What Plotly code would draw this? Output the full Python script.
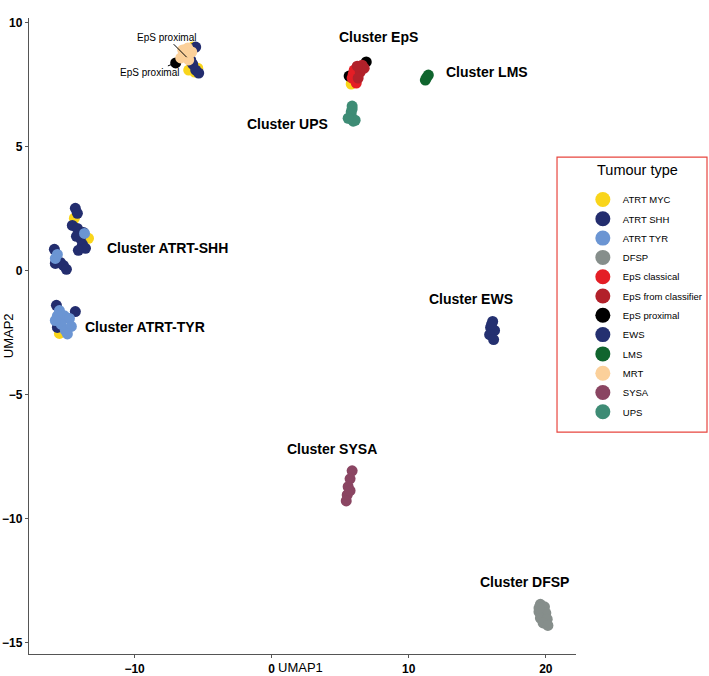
import plotly.graph_objects as go

# ---------------- data (UMAP coordinates) ----------------
tumour_types = ["ATRT MYC", "ATRT SHH", "ATRT TYR", "DFSP", "EpS classical",
                "EpS from classifier", "EpS proximal", "EWS", "LMS", "MRT", "SYSA", "UPS"]

atrt_myc_x = [-5.76, -6.05, -5.61, -5.39, -14.39, -13.36, -15.48, 5.80]
atrt_myc_y = [9.01, 8.08, 8.00, 8.16, 2.11, 1.30, -2.53, 7.52]

eps_proximal_x = [-7.00, -6.20, 5.65, 6.90]
eps_proximal_y = [8.37, 8.60, 7.84, 8.41]

atrt_shh_x = [-5.76, -5.54, -5.32, -5.90, -5.54,
              -14.32, -14.17, -14.54, -14.17, -13.73, -13.95, -13.80, -13.58, -14.10, -14.24,
              -15.85, -15.78, -15.41, -15.19, -14.97,
              -15.70, -15.63, -14.32, -15.26]
atrt_shh_y = [8.32, 8.08, 7.96, 8.48, 9.01,
              2.51, 2.31, 1.82, 1.70, 1.54, 1.30, 1.06, 0.90, 0.82, 1.38,
              0.86, 0.29, 0.33, 0.21, 0.05,
              -1.40, -2.29, -1.65, -1.93]

atrt_tyr_x = [-13.65, -15.63, -15.78,
              -15.48, -15.12, -14.75, -15.34, -15.05, -14.61, -15.63, -15.78, -14.90]
atrt_tyr_y = [1.50, 0.65, 0.49,
              -1.61, -1.82, -1.93, -2.17, -2.41, -2.25, -1.82, -2.01, -2.55]

mrt_x = [-6.49, -6.12, -5.83, -6.27, -6.63, -6.05, -6.42]
mrt_y = [8.89, 8.97, 8.81, 8.65, 8.57, 8.49, 8.73]

eps_classical_x = [6.02, 5.87, 6.17, 5.95]
eps_classical_y = [8.08, 7.76, 7.56, 7.92]

eps_classifier_x = [6.60, 6.46, 6.31, 6.75, 6.24]
eps_classifier_y = [8.28, 8.00, 7.76, 8.16, 8.24]

ews_x = [16.12, 15.97, 16.26, 15.90, 16.19, 16.04]
ews_y = [-2.05, -2.29, -2.41, -2.58, -2.78, -2.17]

lms_x = [11.21, 11.43, 11.30]
lms_y = [7.68, 7.88, 7.78]

sysa_x = [5.87, 5.72, 5.58, 5.51, 5.44, 5.72]
sysa_y = [-8.07, -8.39, -8.71, -9.04, -9.28, -8.87]

ups_x = [5.87, 5.80, 5.72, 5.95, 5.80, 5.87, 6.09, 5.58]
ups_y = [6.63, 6.39, 6.14, 6.02, 6.26, 6.51, 6.06, 6.14]

dfsp_x = [19.60, 19.90, 19.50, 20.00, 19.60, 20.10, 19.80, 20.15, 19.50]
dfsp_y = [-13.45, -13.55, -13.75, -13.80, -14.00, -14.05, -14.20, -14.30, -13.60]

x_ticks = [-10, 0, 10, 20]
y_ticks = [-15, -10, -5, 0, 5, 10]

cluster_labels = ["Cluster ATRT-MYC + MRT", "Cluster EpS", "Cluster LMS", "Cluster UPS",
                  "Cluster ATRT-SHH", "Cluster ATRT-TYR", "Cluster EWS", "Cluster SYSA",
                  "Cluster DFSP"]
cluster_label_x = [-8.82, 7.77, 15.68, 1.19, -7.59, -9.27, 14.51, 4.41, 18.46]
cluster_label_y = [10.58, 9.41, 8.00, 5.90, 0.90, -2.29, -1.16, -7.18, -12.55]

# ---------------- styles ----------------
colors = {
    "ATRT MYC": "#F9D51B",
    "ATRT SHH": "#232D6E",
    "ATRT TYR": "#6B95D3",
    "DFSP": "#868E8B",
    "EpS classical": "#E41E25",
    "EpS from classifier": "#B2212A",
    "EpS proximal": "#000000",
    "EWS": "#243070",
    "LMS": "#10652E",
    "MRT": "#FBD09A",
    "SYSA": "#8A4562",
    "UPS": "#3E8C75",
}

series = {
    "ATRT MYC": (atrt_myc_x, atrt_myc_y),
    "EpS proximal": (eps_proximal_x, eps_proximal_y),
    "ATRT SHH": (atrt_shh_x, atrt_shh_y),
    "ATRT TYR": (atrt_tyr_x, atrt_tyr_y),
    "MRT": (mrt_x, mrt_y),
    "EpS classical": (eps_classical_x, eps_classical_y),
    "EpS from classifier": (eps_classifier_x, eps_classifier_y),
    "EWS": (ews_x, ews_y),
    "LMS": (lms_x, lms_y),
    "SYSA": (sysa_x, sysa_y),
    "UPS": (ups_x, ups_y),
    "DFSP": (dfsp_x, dfsp_y),
}

FONT = "Liberation Sans, Arial, sans-serif"
fig = go.Figure()

# legend-only entries (bigger symbols as in the reference)
for t in tumour_types:
    fig.add_trace(go.Scatter(x=[None], y=[None], mode="markers", name=t, legendgroup=t,
                             marker=dict(size=15, color=colors[t]), showlegend=True))

# data points
for t, (xs, ys) in series.items():
    fig.add_trace(go.Scatter(x=xs, y=ys, mode="markers", name=t, showlegend=False,
                             legendgroup=t,
                             marker=dict(size=11, color=colors[t], line=dict(width=0))))

annotations = []
for txt, ax_, ay_ in zip(cluster_labels, cluster_label_x, cluster_label_y):
    annotations.append(dict(x=ax_, y=ay_, xref="x", yref="y", text="<b>%s</b>" % txt,
                            showarrow=False, font=dict(family=FONT, size=14, color="black")))

# EpS proximal call-outs
annotations.append(dict(x=eps_proximal_x[1], y=eps_proximal_y[1], xref="x", yref="y",
                        text="EpS proximal", showarrow=True, arrowhead=0, arrowwidth=1,
                        arrowcolor="black", ax=-20, ay=-20,
                        font=dict(family=FONT, size=10, color="black")))
annotations.append(dict(x=eps_proximal_x[0], y=eps_proximal_y[0], xref="x", yref="y",
                        text="EpS proximal", showarrow=True, arrowhead=0, arrowwidth=1,
                        arrowcolor="black", ax=-26, ay=10,
                        font=dict(family=FONT, size=10, color="black")))

# axis titles
annotations.append(dict(x=0.497, y=-0.022, xref="paper", yref="paper", text="UMAP1",
                        showarrow=False, xanchor="center", yanchor="middle",
                        font=dict(family=FONT, size=13, color="black")))
annotations.append(dict(x=-0.038, y=0.5, xref="paper", yref="paper", text="UMAP2",
                        showarrow=False, textangle=-90, xanchor="center", yanchor="middle",
                        font=dict(family=FONT, size=13, color="black")))
# legend title
annotations.append(dict(x=(595 - 29) / 547, y=(654 - 170) / 636, xref="paper", yref="paper",
                        text="Tumour type", showarrow=False, xanchor="left", yanchor="middle",
                        font=dict(family=FONT, size=14.5, color="black")))

fig.update_layout(
    width=709, height=676,
    margin=dict(l=29, r=133, t=18, b=22, autoexpand=False),
    plot_bgcolor="white", paper_bgcolor="white",
    font=dict(family=FONT, color="black"),
    annotations=annotations,
    showlegend=True,
    legend=dict(
        x=1.0125, y=0.7374, xanchor="left", yanchor="top",
        bgcolor="rgba(0,0,0,0)", borderwidth=0, tracegroupgap=0.3,
        font=dict(family=FONT, size=9.5, color="black"),
    ),
    shapes=[dict(type="rect", xref="paper", yref="paper",
                 x0=0.9653, x1=1.2395, y0=0.349, y1=0.7814,
                 line=dict(color="#E8463F", width=1.2), fillcolor="rgba(0,0,0,0)",
                 layer="above")],
)

axis_common = dict(showgrid=False, zeroline=False, showline=True, linecolor="#555555",
                   linewidth=1.3, ticks="outside", ticklen=3, tickcolor="#555555",
                   tickwidth=1, mirror=False, automargin=False,
                   tickfont=dict(family=FONT, size=12, color="black", weight="bold"))
fig.update_xaxes(range=[-17.7, 22.2], tickvals=x_ticks, **axis_common)
fig.update_yaxes(range=[-15.45, 10.18], tickvals=y_ticks, **axis_common)

# remove the browser's default 8 px page margin so the figure fills the window exactly
fig.write_html("out.html",
               config={"displayModeBar": False},
               post_script="document.body.style.margin='0px'; document.body.style.overflow='hidden';")
